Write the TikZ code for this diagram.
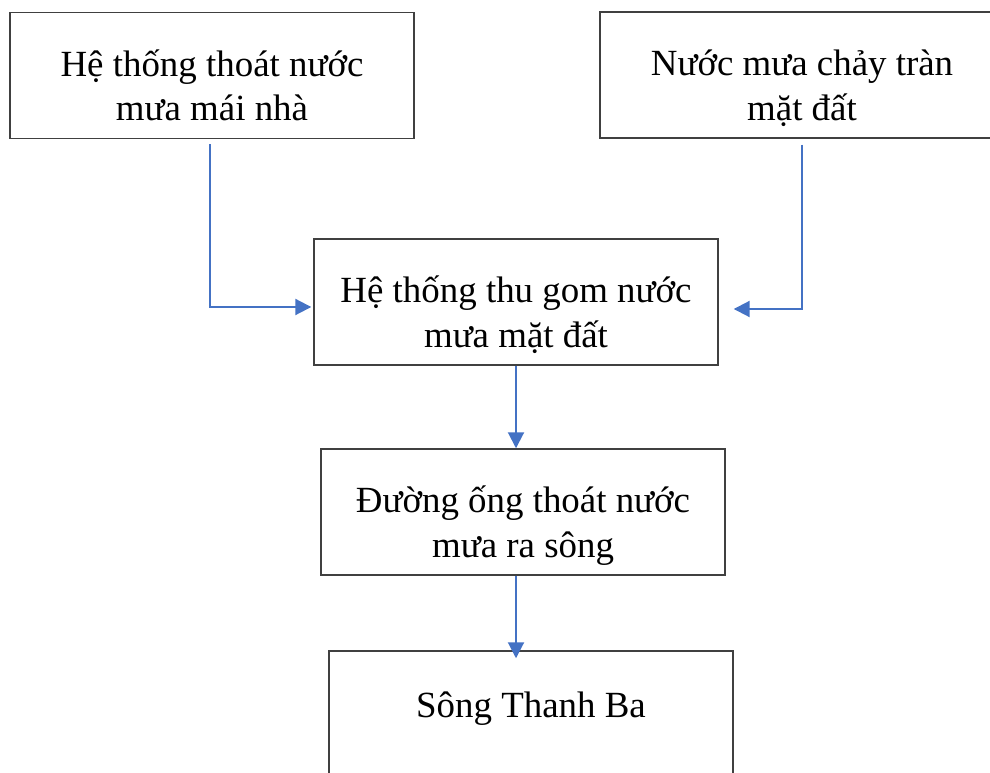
\documentclass[tikz,border=0pt]{standalone}
\usepackage{fontspec}
\setmainfont{Liberation Serif}
\usepackage{tikz}
\usetikzlibrary{arrows.meta,calc}
\definecolor{arblue}{RGB}{68,114,196}
\definecolor{edge}{RGB}{64,64,64}
\tikzset{
  box/.style={draw=edge,line width=0.85pt,minimum width=8.08cm,minimum height=2.52cm,
              inner sep=0pt,align=center,text height=51.6pt,text depth=0pt,
              font=\fontsize{21}{25.5}\selectfont},
  ar/.style ={arblue,line width=1.15pt,-{Triangle[length=3.2mm,width=3.2mm]}},
}
\begin{document}
\begin{tikzpicture}[x=0.02cm,y=-0.02cm]
  \useasboundingbox (0,0) rectangle (990,773);
  \clip (0,0) rectangle (990,773);
  \node[box] (roof) at (212,75.5){Hệ thống thoát nước\\mưa mái nhà};
  \node[box] (flow) at (802,75){Nước mưa chảy tràn\\mặt đất};
  \node[box] (gom) at (516,302){Hệ thống thu gom nước\\mưa mặt đất};
  \node[box] (pipe) at (523,512){Đường ống thoát nước\\mưa ra sông};
  \node[box,text height=4.5pt] (river) at (531,714){Sông Thanh Ba};
  \draw[ar] ($(roof.south)+(-2,5)$) |- ($(gom.west)+(-2,5)$);
  \draw[ar] ($(flow.south)+(0,6)$) |- ($(gom.east)+(15,7)$);
  \draw[ar] (gom.south) -- (gom.south |- pipe.north);
  \draw[ar] (gom.south |- pipe.south) -- ($(gom.south |- river.north)+(0,8)$);
\end{tikzpicture}
\end{document}
